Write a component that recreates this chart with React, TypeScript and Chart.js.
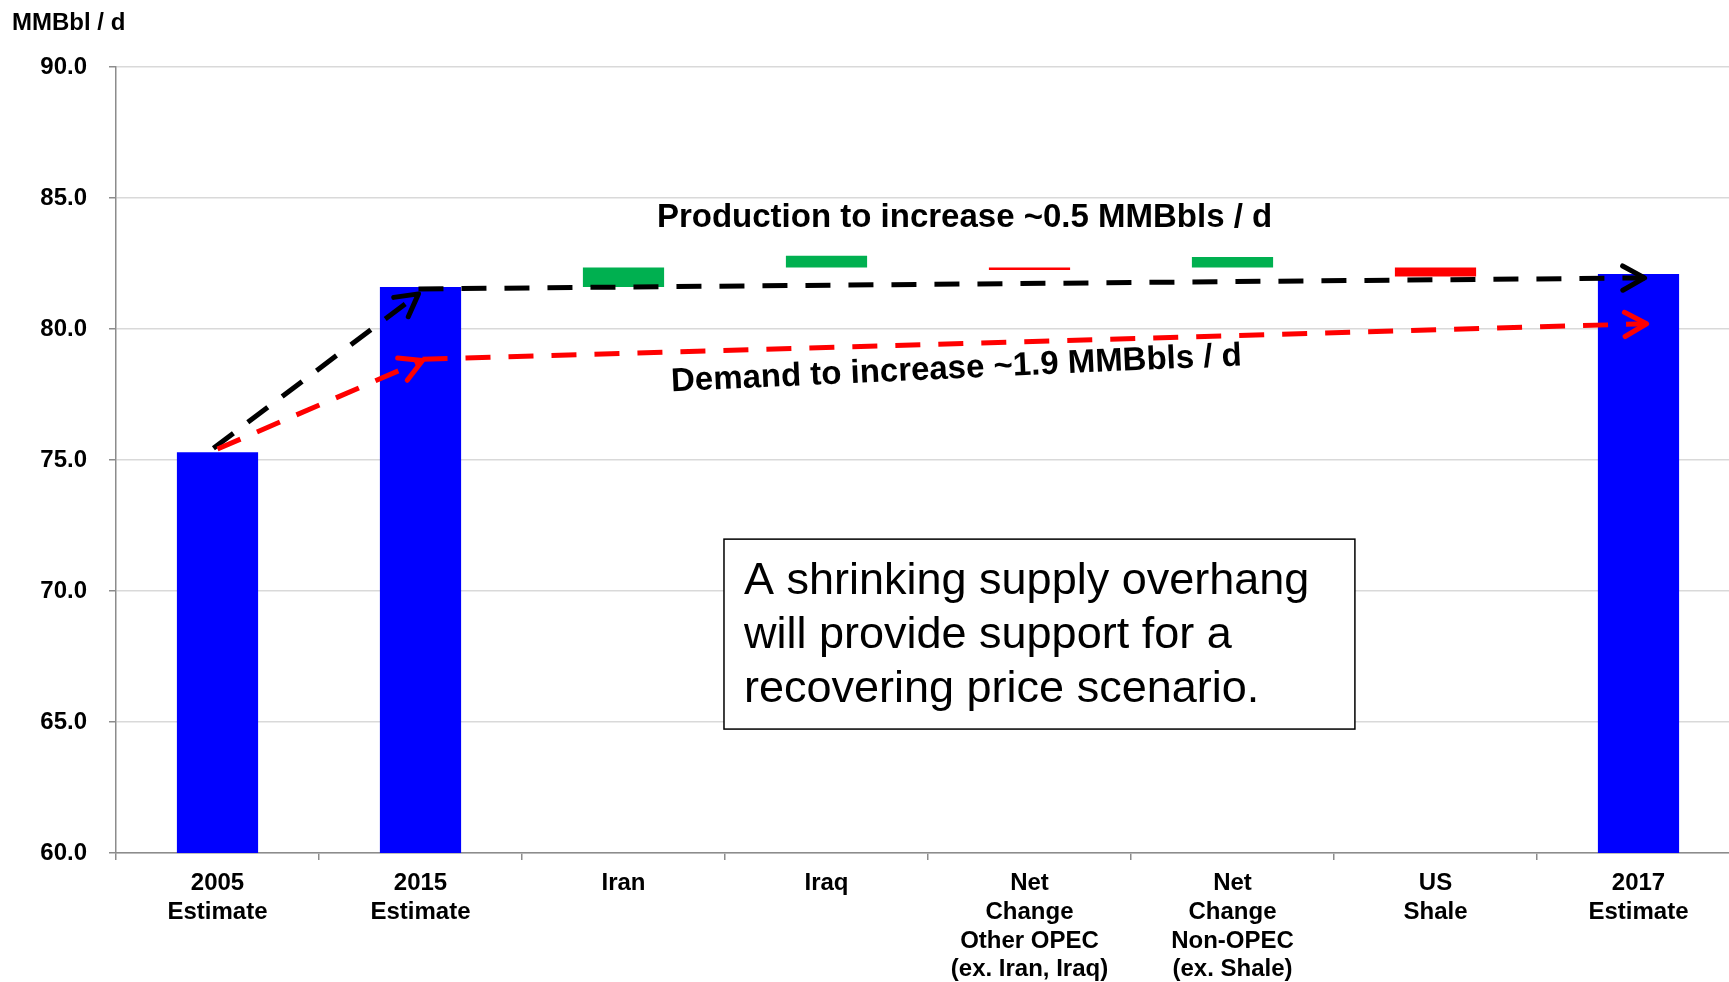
import { useEffect, useRef } from 'react';
import { Chart, registerables } from 'chart.js';

Chart.register(...registerables);

// Categories along the x axis (multi-line labels)
const categories: (string | string[])[] = [
  ['2005', 'Estimate'],
  ['2015', 'Estimate'],
  'Iran',
  'Iraq',
  ['Net', 'Change', 'Other OPEC', '(ex. Iran, Iraq)'],
  ['Net', 'Change', 'Non-OPEC', '(ex. Shale)'],
  ['US', 'Shale'],
  ['2017', 'Estimate'],
];

// Total production levels, MMBbl / d
const totals: (number | null)[] = [75.3, 81.6, null, null, null, null, null, 82.1];

// Floating change bars: [from, to]; a drop (to < from) is drawn red
const changes: ([number, number] | null)[] = [
  null,
  null,
  [81.6, 82.35],
  [82.35, 82.8],
  [82.35, 82.25],
  [82.35, 82.75],
  [82.35, 82.0],
  null,
];

// Y axis range
const yMin = 60;
const yMax = 90;
const yStep = 5;

// Dashed trend arrows, in (category index, MMBbl / d)
const productionArrows = [
  [{ x: -0.02, y: 75.45 }, { x: 0.99, y: 81.34 }],
  [{ x: 0.99, y: 81.53 }, { x: 7.03, y: 81.95 }],
];
const demandArrows = [
  [{ x: 0.0, y: 75.42 }, { x: 1.01, y: 78.8 }],
  [{ x: 1.01, y: 78.85 }, { x: 7.04, y: 80.2 }],
];

const unitLabel = 'MMBbl / d';
const productionNote = { text: 'Production to increase ~0.5 MMBbls / d', x: 3.68, y: 84.24 };
const demandNote = { text: 'Demand to increase ~1.9 MMBbls / d', x: 3.64, y: 78.47, angleDeg: -2.6 };
const boxNote = {
  lines: ['A shrinking supply overhang', 'will provide support for a', 'recovering price scenario.'],
  left: 2.495,
  right: 5.603,
  top: 71.98,
  bottom: 64.73,
};

const FONT = "'Liberation Sans', Arial, Helvetica, sans-serif";
const BLUE = '#0000FF';
const GREEN = '#00B050';
const RED = '#FF0000';
const AXIS_GRAY = '#8c8c8c';
const GRID_GRAY = '#d9d9d9';

function drawArrow(ctx: CanvasRenderingContext2D, x0: number, y0: number, x1: number, y1: number, color: string) {
  ctx.save();
  ctx.strokeStyle = color;
  ctx.lineWidth = 5;
  ctx.lineCap = 'butt';
  ctx.setLineDash([25, 18]);
  ctx.beginPath();
  ctx.moveTo(x0, y0);
  ctx.lineTo(x1, y1);
  ctx.stroke();
  // open chevron head
  const ang = Math.atan2(y1 - y0, x1 - x0);
  const len = 25;
  const spread = (29 * Math.PI) / 180;
  ctx.setLineDash([]);
  ctx.lineCap = 'round';
  ctx.lineJoin = 'round';
  ctx.beginPath();
  ctx.moveTo(x1 - len * Math.cos(ang - spread), y1 - len * Math.sin(ang - spread));
  ctx.lineTo(x1, y1);
  ctx.lineTo(x1 - len * Math.cos(ang + spread), y1 - len * Math.sin(ang + spread));
  ctx.stroke();
  ctx.restore();
}

const overlayPlugin = {
  id: 'overlayNotes',
  afterDatasetsDraw(chart: any) {
    const ctx: CanvasRenderingContext2D = chart.ctx;
    const xs = chart.scales.x;
    const ys = chart.scales.y;
    const px = (v: number) => xs.getPixelForValue(v);
    const py = (v: number) => ys.getPixelForValue(v);

    // trend arrows
    for (const [a, b] of productionArrows) {
      drawArrow(ctx, px(a.x), py(a.y), px(b.x), py(b.y), '#000000');
    }
    for (const [a, b] of demandArrows) {
      drawArrow(ctx, px(a.x), py(a.y), px(b.x), py(b.y), RED);
    }

    ctx.save();
    ctx.fillStyle = '#000000';
    ctx.font = `bold 33px ${FONT}`;
    ctx.textAlign = 'center';
    ctx.textBaseline = 'middle';
    ctx.fillText(productionNote.text, px(productionNote.x), py(productionNote.y));

    ctx.save();
    ctx.translate(px(demandNote.x), py(demandNote.y));
    ctx.rotate((demandNote.angleDeg * Math.PI) / 180);
    ctx.fillText(demandNote.text, 0, 0);
    ctx.restore();

    // text box
    const bl = px(boxNote.left);
    const br = px(boxNote.right);
    const bt = py(boxNote.top);
    const bb = py(boxNote.bottom);
    ctx.fillStyle = '#ffffff';
    ctx.fillRect(bl, bt, br - bl, bb - bt);
    ctx.strokeStyle = '#000000';
    ctx.lineWidth = 1.5;
    ctx.strokeRect(bl, bt, br - bl, bb - bt);
    ctx.fillStyle = '#000000';
    ctx.font = `45px ${FONT}`;
    ctx.textAlign = 'left';
    ctx.textBaseline = 'alphabetic';
    boxNote.lines.forEach((line, i) => {
      ctx.fillText(line, bl + 20, bt + 55 + i * 54);
    });

    // unit label above the y axis
    ctx.font = `bold 24px ${FONT}`;
    ctx.fillText(unitLabel, 12, 30);
    ctx.restore();
  },
};

export default function App() {
  const canvasRef = useRef<HTMLCanvasElement | null>(null);

  useEffect(() => {
    const canvas = canvasRef.current;
    if (!canvas) return;
    const chart = new Chart(canvas, {
      type: 'bar',
      data: {
        labels: categories,
        datasets: [
          {
            label: 'Total',
            data: totals as any,
            backgroundColor: BLUE,
            borderWidth: 0,
            grouped: false,
            barPercentage: 0.4,
            categoryPercentage: 1,
          },
          {
            label: 'Change',
            data: changes as any,
            backgroundColor: (c: any) => {
              const v = changes[c.dataIndex];
              return v && v[1] < v[0] ? RED : GREEN;
            },
            borderWidth: 0,
            grouped: false,
            barPercentage: 0.4,
            categoryPercentage: 1,
          },
        ],
      },
      options: {
        responsive: false,
        animation: false,
        devicePixelRatio: 1,
        layout: { padding: { left: 0, top: 67, right: 0, bottom: 0 } },
        plugins: {
          legend: { display: false },
          tooltip: { enabled: false },
          title: { display: false },
        },
        scales: {
          x: {
            offset: true,
            grid: {
              offset: true,
              drawOnChartArea: false,
              drawTicks: true,
              tickLength: 7,
              color: AXIS_GRAY,
              lineWidth: 1.5,
            },
            border: { color: AXIS_GRAY, width: 1.5 },
            ticks: {
              color: '#000000',
              padding: 9,
              maxRotation: 0,
              autoSkip: false,
              font: { family: FONT, size: 24, weight: 'bold', lineHeight: 1.2 },
            },
            afterFit: (scale: any) => {
              scale.height = 129;
            },
          },
          y: {
            min: yMin,
            max: yMax,
            ticks: {
              stepSize: yStep,
              color: '#000000',
              padding: 22,
              font: { family: FONT, size: 24, weight: 'bold' },
              callback: (v: any) => Number(v).toFixed(1),
            },
            grid: {
              color: GRID_GRAY,
              lineWidth: 1.5,
              tickLength: 7,
              tickColor: AXIS_GRAY,
            },
            border: { color: AXIS_GRAY, width: 1.5 },
            afterFit: (scale: any) => {
              scale.width = 116;
            },
          },
        },
      },
      plugins: [overlayPlugin],
    });
    return () => chart.destroy();
  }, []);

  return (
    <div
      style={{
        position: 'fixed',
        left: 0,
        top: 0,
        width: 1729,
        height: 982,
        overflow: 'hidden',
        background: '#ffffff',
      }}
    >
      <canvas ref={canvasRef} width={1740} height={982} style={{ display: 'block' }} />
    </div>
  );
}
